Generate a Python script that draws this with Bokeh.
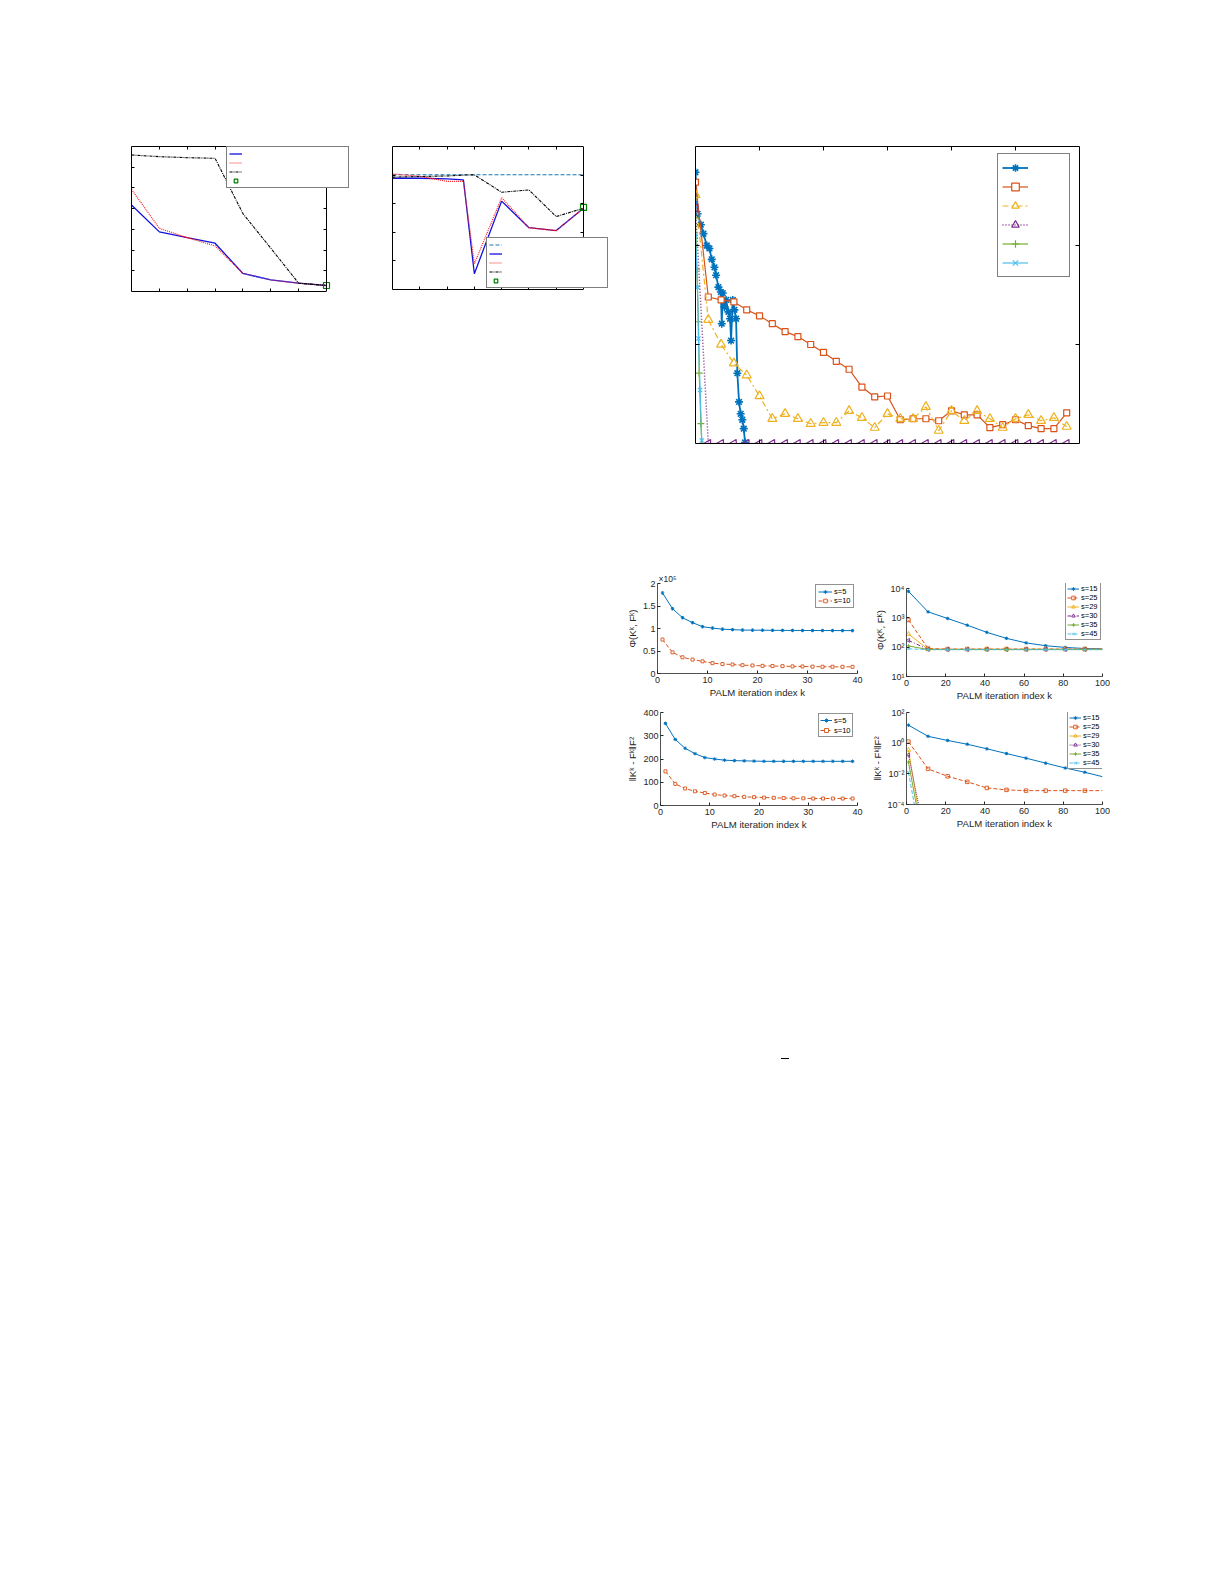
import math
from bokeh.plotting import figure
from bokeh.models import (Range1d, LinearAxis, FixedTicker, CustomJSTickFormatter,
                          Legend, LegendItem, Spacer, Div)
from bokeh.layouts import column, row
from bokeh.core.properties import value
from bokeh.embed import file_html
from bokeh.resources import INLINE

FONT = "Liberation Sans"
AX = "#262626"

# ---------------- data: plot A (top-left) ----------------
A_x = [0, 1, 2, 3, 4, 5, 6, 7]
A_blue = [4.18, 2.88, 2.60, 2.33, 0.87, 0.56, 0.40, 0.29]
A_red = [4.93, 3.05, 2.60, 2.20, 0.87, 0.56, 0.40, 0.29]
A_black = [6.59, 6.51, 6.46, 6.43, 3.76, 2.09, 0.40, 0.29]
A_sq_x = [7]
A_sq_y = [0.29]

# ---------------- data: plot B (top-middle) ----------------
B_x = [0, 1, 2, 2.6, 3, 4, 5, 6, 7]
B_ref_x = [0, 7]
B_ref_y = [4.01, 4.01]
B_blue = [3.89, 3.89, 3.87, 3.83, 0.55, 3.09, 2.16, 2.06, 2.84]
B_red = [4.04, 3.96, 3.78, 3.78, 0.90, 3.21, 2.16, 2.06, 2.84]
B_black = [3.93, 3.95, 3.97, 4.00, 4.01, 3.40, 3.48, 2.55, 2.84]
B_sq_x = [7]
B_sq_y = [2.87]

# ---------------- data: plot C (top-right) ----------------
C_blue_x = [0, 0.16, 0.42, 0.62, 0.88, 1.09, 1.27, 1.48, 1.61, 1.79, 1.98, 2.05, 2.13,
            2.26, 2.39, 2.57, 2.70, 2.78, 2.91, 3.04, 3.17, 3.27, 3.40, 3.53, 3.66, 3.77, 3.87]
C_blue_y = [2.74, 2.32, 2.21, 2.12, 2.00, 1.97, 1.86, 1.78, 1.70, 1.58, 1.53, 1.21, 1.52,
            1.38, 1.45, 1.33, 1.26, 1.04, 1.45, 1.35, 1.26, 0.71, 0.42, 0.30, 0.24, 0.15, 0.01]
C_x = list(range(30))
C_red = [2.64, 1.48, 1.45, 1.43, 1.35, 1.29, 1.21, 1.13, 1.08, 1.00, 0.92, 0.83, 0.75, 0.57, 0.47,
         0.48, 0.24, 0.25, 0.25, 0.23, 0.33, 0.29, 0.29, 0.16, 0.19, 0.24, 0.18, 0.15, 0.15, 0.31]
C_yellow = [2.51, 1.25, 1.00, 0.81, 0.69, 0.48, 0.25, 0.30, 0.25, 0.20, 0.21, 0.21, 0.33, 0.26, 0.16,
            0.30, 0.25, 0.25, 0.37, 0.13, 0.33, 0.23, 0.33, 0.25, 0.16, 0.25, 0.29, 0.23, 0.26, 0.17]
C_purple = [2.38] + [0.0] * 29
C_green_x = [0, 0.10, 0.23, 0.29, 0.42, 0.49]
C_green_y = [2.28, 1.76, 1.23, 0.71, 0.20, 0.0]
C_cyan_x = [0, 0.16, 0.23, 0.36, 0.49]
C_cyan_y = [2.10, 1.58, 1.06, 0.54, 0.03]

# ---------------- data: 2x2 grid ----------------
DF_x = list(range(1, 40, 2))
D_s5 = [1.79, 1.44, 1.24, 1.13, 1.04, 1.01, 0.985, 0.975, 0.965, 0.963, 0.962, 0.960, 0.958,
        0.957, 0.956, 0.955, 0.955, 0.954, 0.954, 0.953]
D_s10 = [0.755, 0.47, 0.36, 0.31, 0.27, 0.23, 0.21, 0.20, 0.185, 0.178, 0.17, 0.165, 0.163,
         0.158, 0.156, 0.152, 0.15, 0.15, 0.148, 0.148]
F_s5 = [353, 284, 246, 223, 206, 200, 195, 193, 192, 191, 190, 190, 190, 190, 190, 190, 190, 190, 190, 190]
F_s10 = [147, 93, 73, 61, 54, 47, 43, 40, 37, 36, 34, 33, 32, 31, 31, 30, 30, 30, 30, 30]

EG_x = [1, 11, 21, 31, 41, 51, 61, 71, 81, 91, 100]
E_s15 = [8000, 1600, 950, 560, 320, 200, 140, 112, 98, 90, 88]
E_s25 = [850, 90, 86, 86, 86, 86, 86, 86, 86, 86, 86]
E_s29 = [280, 85, 85, 85, 85, 85, 85, 85, 85, 85, 85]
E_s30 = [170, 84, 84, 84, 84, 84, 84, 84, 84, 84, 84]
E_s35 = [110, 83, 83, 83, 83, 83, 83, 83, 83, 83, 83]
E_s45 = [88, 82, 82, 82, 82, 82, 82, 82, 82, 82, 82]

G_s15 = [15, 2.8, 1.5, 0.85, 0.43, 0.21, 0.105, 0.05, 0.024, 0.0126, 0.0065]
G_s25 = [1.26, 0.021, 0.0069, 0.003, 0.0012, 0.0009, 0.0008, 0.0008, 0.0008, 0.0008, 0.0008]
G_fast_x = [1, 11]
G_s29 = [0.36, 6.6e-9]
G_s30 = [0.17, 1e-7]
G_s35 = [0.058, 7e-9]
G_s45 = [0.0126, 1.3e-9]

S_labels_2 = ["s=5", "s=10"]
S_labels_6 = ["s=15", "s=25", "s=29", "s=30", "s=35", "s=45"]

MB = "#0072BD"; MR = "#D95319"; MY = "#EDB120"; MP = "#7E2F8E"; MG = "#77AC30"; MC = "#4DBEEE"


def mk_axis(ticks, tl, bounds=None, fixed=None):
    ax = LinearAxis(ticker=FixedTicker(ticks=ticks),
                    formatter=CustomJSTickFormatter(code="return ''"),
                    major_tick_in=tl, major_tick_out=0, minor_tick_in=0, minor_tick_out=0,
                    axis_line_color="black", axis_line_width=1,
                    major_tick_line_color="black", major_label_standoff=0,
                    major_label_text_font_size="1px")
    if bounds is not None:
        ax.bounds = bounds
    if fixed is not None:
        ax.fixed_location = fixed
    return ax


def box_fig(fw, fh, xr, yr, mbl, mbr, mbt, mbb, xticks, yticks, tl, xend_box=None):
    # xr[1] may exceed the boxed data range so that the legend can overflow the box
    p = figure(frame_width=fw, frame_height=fh, x_range=Range1d(*xr), y_range=Range1d(*yr),
               x_axis_location=None, y_axis_location=None, output_backend="svg",
               toolbar_location=None, min_border_left=mbl, min_border_right=mbr,
               min_border_top=mbt, min_border_bottom=mbb)
    p.outline_line_color = None
    p.xgrid.visible = False
    p.ygrid.visible = False
    xb = (xr[0], xend_box) if xend_box is not None else None
    p.add_layout(mk_axis(xticks, tl, bounds=xb), "below")
    p.add_layout(mk_axis(xticks, tl, bounds=xb), "above")
    p.add_layout(mk_axis(yticks, tl), "left")
    p.add_layout(mk_axis(yticks, tl, fixed=xend_box), "right")
    return p


def empty_legend(groups, loc, pad, gw, gh, lw):
    return Legend(items=[LegendItem(label=value(""), renderers=g) for g in groups],
                  location=loc, orientation="vertical", padding=pad, spacing=0, margin=0,
                  glyph_width=gw, glyph_height=gh, label_height=gh, label_width=lw,
                  label_standoff=0, label_text_font_size="1px",
                  border_line_color="black", border_line_width=1,
                  background_fill_color="white", background_fill_alpha=1)


def text_legend(groups, labels, loc, pad, gw, gh, lw):
    return Legend(items=[LegendItem(label=value(l), renderers=g) for g, l in zip(groups, labels)],
                  location=loc, orientation="vertical", padding=pad, spacing=0, margin=0,
                  glyph_width=gw, glyph_height=gh, label_height=gh, label_width=lw,
                  label_standoff=2, label_text_font=FONT, label_text_font_size="7.5px",
                  label_text_color="black",
                  border_line_color=AX, border_line_width=0.6,
                  background_fill_color="white", background_fill_alpha=1)


# ================= Plot A =================
pA = box_fig(219, 145, (0, 7 * 219 / 195), (0, 7), 20, 6, 24, 10,
             [1, 2, 3, 4, 5, 6], [1, 2, 3, 4, 5, 6], 3, xend_box=7)
a1 = pA.line(A_x, A_blue, line_color="#1010E0", line_width=1.3)
a2 = pA.line(A_x, A_red, line_color="#FF2020", line_width=1.2, line_dash="1 1")
a3 = pA.line(A_x, A_black, line_color="black", line_width=1.1, line_dash="3 1 1 1")
a4 = pA.scatter(A_sq_x, A_sq_y, marker="square", size=6, line_color="#008000",
                fill_color=None, line_width=1.2)
pA.add_layout(empty_legend([[a1], [a2], [a3], [a4]], (95, 103), 2, 13, 9, 104))

# ================= Plot B =================
pB = box_fig(217, 143, (0, 7 * 217 / 191), (0, 5), 20, 4, 26, 10,
             [1, 2, 3, 4, 5, 6], [1, 2, 3, 4], 3, xend_box=7)
b0 = pB.line(B_ref_x, B_ref_y, line_color="#1A7AB0", line_width=1.1, line_dash="4 2")
b1 = pB.line(B_x, B_blue, line_color="#1010E0", line_width=1.3)
b2 = pB.line(B_x, B_red, line_color="#FF2020", line_width=1.2, line_dash="1 1")
b3 = pB.line(B_x, B_black, line_color="black", line_width=1.1, line_dash="3 1 1 1")
b4 = pB.scatter(B_sq_x, B_sq_y, marker="square", size=6, line_color="#008000",
                fill_color=None, line_width=1.2)
pB.add_layout(empty_legend([[b0], [b1], [b2], [b3], [b4]], (94, 1), 2, 13, 9, 103))

# ================= Plot C =================
pC = box_fig(384, 297, (0, 30), (0, 3), 20, 10, 20, 10, [5, 10, 15, 20, 25], [1, 2], 4)
c1l = pC.line(C_blue_x, C_blue_y, line_color=MB, line_width=1.8)
c1m = pC.scatter(C_blue_x, C_blue_y, marker="asterisk", size=8, line_color=MB, line_width=1.6)
c2l = pC.line(C_x, C_red, line_color=MR, line_width=1.2)
c2m = pC.scatter(C_x, C_red, marker="square", size=6, line_color=MR, fill_color="white", line_width=1.2)
c3l = pC.line(C_x, C_yellow, line_color=MY, line_width=1.2, line_dash="6 3 2 3")
c3m = pC.scatter(C_x, C_yellow, marker="triangle", size=9, line_color=MY, fill_color=None, line_width=1.2)
c4l = pC.line(C_x, C_purple, line_color=MP, line_width=1.5, line_dash="1 2")
c4m = pC.scatter(C_x, C_purple, marker="triangle", angle=math.pi / 2, size=8, line_color=MP,
                 fill_color=None, line_width=1.2)
c5l = pC.line(C_green_x, C_green_y, line_color=MG, line_width=1.2)
c5m = pC.scatter(C_green_x, C_green_y, marker="cross", size=7, line_color=MG, line_width=1.2)
c6l = pC.line(C_cyan_x, C_cyan_y, line_color=MC, line_width=1.2)
c6m = pC.scatter(C_cyan_x, C_cyan_y, marker="x", size=6, line_color=MC, line_width=1.2)
pC.add_layout(empty_legend([[c1l, c1m], [c2l, c2m], [c3l, c3m], [c4l, c4m], [c5l, c5m], [c6l, c6m]],
                           (302, 166), 4, 26, 19, 37))


# ================= grid helpers =================
def grid_fig(fw, fh, xr, yr, mbl, mbr, mbt, mbb, log=False):
    p = figure(frame_width=fw, frame_height=fh, x_range=Range1d(*xr), y_range=Range1d(*yr),
               y_axis_type="log" if log else "linear", output_backend="svg",
               toolbar_location=None, min_border_left=mbl, min_border_right=mbr,
               min_border_top=mbt, min_border_bottom=mbb)
    p.outline_line_color = None
    p.xgrid.visible = False
    p.ygrid.visible = False
    for ax in (p.xaxis[0], p.yaxis[0]):
        ax.major_tick_in = 3
        ax.major_tick_out = 0
        ax.minor_tick_in = 0
        ax.minor_tick_out = 0
        ax.axis_line_color = AX
        ax.axis_line_width = 0.8
        ax.major_tick_line_color = AX
        ax.major_label_text_font = FONT
        ax.major_label_text_font_size = "9px"
        ax.major_label_text_color = AX
        ax.axis_label_text_font = FONT
        ax.axis_label_text_font_size = "9.6px"
        ax.axis_label_text_font_style = "normal"
        ax.axis_label_text_color = AX
    p.xaxis[0].major_label_standoff = 3
    p.yaxis[0].major_label_standoff = 2
    p.xaxis[0].axis_label_standoff = 1
    p.yaxis[0].axis_label_standoff = 2
    p.xaxis[0].axis_label = "PALM iteration index k"
    return p


def set_ticks(ax, ticks, labels):
    ax.ticker = FixedTicker(ticks=ticks)
    ax.major_label_overrides = {t: l for t, l in zip(ticks, labels)}


def add_series(p, xs, ys, color, dash, marker, mark_xs, mark_ys):
    kw = dict(line_color=color, line_width=1)
    if dash:
        kw["line_dash"] = dash
    l = p.line(xs, ys, **kw)
    if marker == "tri_left":
        m = p.scatter(mark_xs, mark_ys, marker="triangle", angle=math.pi / 2, size=4,
                      line_color=color, fill_color=None, line_width=0.9)
    elif marker in ("square", "triangle"):
        m = p.scatter(mark_xs, mark_ys, marker=marker, size=3.5 if marker == "square" else 4.5,
                      line_color=color, fill_color=None, line_width=0.9)
    else:
        m = p.scatter(mark_xs, mark_ys, marker=marker, size=3.5, line_color=color, line_width=1)
    return [l, m]


# ================= Plot D =================
pD = grid_fig(200, 90, (0, 40), (0, 2), 45, 10, 43, 27)
set_ticks(pD.xaxis[0], [0, 10, 20, 30, 40], ["0", "10", "20", "30", "40"])
set_ticks(pD.yaxis[0], [0, 0.5, 1, 1.5, 2], ["0", "0.5", "1", "1.5", "2"])
pD.yaxis[0].axis_label = "Φ(Kᵏ, Fᵏ)"
d1l = pD.line(DF_x, D_s5, line_color=MB, line_width=1)
d1m = pD.scatter(DF_x, D_s5, marker="asterisk", size=3.5, line_color=MB, line_width=1)
d2l = pD.line(DF_x, D_s10, line_color=MR, line_width=1, line_dash="4 2")
d2m = pD.scatter(DF_x, D_s10, marker="square", size=3, line_color=MR, fill_color="white", line_width=0.9)
pD.add_layout(text_legend([[d1l, d1m], [d2l, d2m]], S_labels_2, (158, 65), 2, 14, 9, 17))
pD.title.text = "×10⁵"
pD.title.align = "left"
pD.title.offset = 1
pD.title.standoff = 0
pD.title.text_font = FONT
pD.title.text_font_size = "8.5px"
pD.title.text_font_style = "normal"
pD.title.text_color = AX

# ================= Plot E =================
E_top = 10 ** (4 + 5 / (88 / 3))
pE = grid_fig(196, 93, (0, 100), (10, E_top), 39, 10, 41, 26, log=True)
set_ticks(pE.xaxis[0], [0, 20, 40, 60, 80, 100], ["0", "20", "40", "60", "80", "100"])
set_ticks(pE.yaxis[0], [10, 100, 1000, 10000], ["10¹", "10²", "10³", "10⁴"])
pE.yaxis[0].bounds = (10, 10000)
pE.yaxis[0].axis_label = "Φ(Kᴷ, Fᴷ)"
E_series = [(E_s15, MB, None, "asterisk"), (E_s25, MR, "4 2", "square"), (E_s29, MY, None, "triangle"),
            (E_s30, MP, "4 2 1 2", "tri_left"), (E_s35, MG, None, "cross"), (E_s45, MC, "4 2", "x")]
E_groups = [add_series(pE, EG_x, ys, c, d, mk, EG_x[:-1], ys[:-1]) for ys, c, d, mk in E_series]
pE.add_layout(text_legend(E_groups, S_labels_6, (159, 36), 1, 12, 9, 18))

# ================= Plot F =================
pF = grid_fig(197, 93, (0, 40), (0, 400), 48, 10, 10, 27)
set_ticks(pF.xaxis[0], [0, 10, 20, 30, 40], ["0", "10", "20", "30", "40"])
set_ticks(pF.yaxis[0], [0, 100, 200, 300, 400], ["0", "100", "200", "300", "400"])
pF.yaxis[0].axis_label = "‖Kᵏ - Fᵏ‖F²"
f1l = pF.line(DF_x, F_s5, line_color=MB, line_width=1)
f1m = pF.scatter(DF_x, F_s5, marker="asterisk", size=3.5, line_color=MB, line_width=1)
f2l = pF.line(DF_x, F_s10, line_color=MR, line_width=1, line_dash="4 2")
f2m = pF.scatter(DF_x, F_s10, marker="square", size=3, line_color=MR, fill_color="white", line_width=0.9)
pF.add_layout(text_legend([[f1l, f1m], [f2l, f2m]], S_labels_2, (158, 68), 1, 12, 10, 17))

# ================= Plot G =================
pG = grid_fig(196, 92, (0, 100), (1e-4, 1e2), 39, 10, 11, 27, log=True)
set_ticks(pG.xaxis[0], [0, 20, 40, 60, 80, 100], ["0", "20", "40", "60", "80", "100"])
set_ticks(pG.yaxis[0], [1e-4, 1e-2, 1, 100], ["10⁻⁴", "10⁻²", "10⁰", "10²"])
pG.yaxis[0].axis_label = "‖Kᵏ - Fᵏ‖F²"
G_series = [(EG_x, G_s15, MB, None, "asterisk"), (EG_x, G_s25, MR, "4 2", "square"),
            (G_fast_x, G_s29, MY, None, "triangle"), (G_fast_x, G_s30, MP, "1 1", "tri_left"),
            (G_fast_x, G_s35, MG, None, "cross"), (G_fast_x, G_s45, MC, "4 2", "x")]
G_groups = []
for xs, ys, c, d, mk in G_series:
    mx = xs[:-1] if len(xs) > 2 else xs
    my = ys[:-1] if len(xs) > 2 else ys
    G_groups.append(add_series(pG, xs, ys, c, d, mk, mx, my))
pG.add_layout(text_legend(G_groups, S_labels_6, (161, 35), 1, 12, 9, 18))

# ================= page layout =================
dash_div = Div(text="", width=8, height=1, styles={"background-color": "black"})
rule_div = Div(text="", width=1220, height=2, styles={"background-color": "black"})

page = column(
    Spacer(height=120, width=10),
    row(Spacer(width=111, height=1), pA, Spacer(width=16, height=1), pB,
        Spacer(width=62, height=1), pC),
    Spacer(height=93, width=10),
    row(Spacer(width=612, height=1), pD, pE),
    row(Spacer(width=612, height=1), pF, pG),
    Spacer(height=222, width=10),
    row(Spacer(width=776, height=1), dash_div),
    Spacer(height=528, width=10),
    rule_div,
)

open("out.html", "w").write(file_html(page, INLINE))
